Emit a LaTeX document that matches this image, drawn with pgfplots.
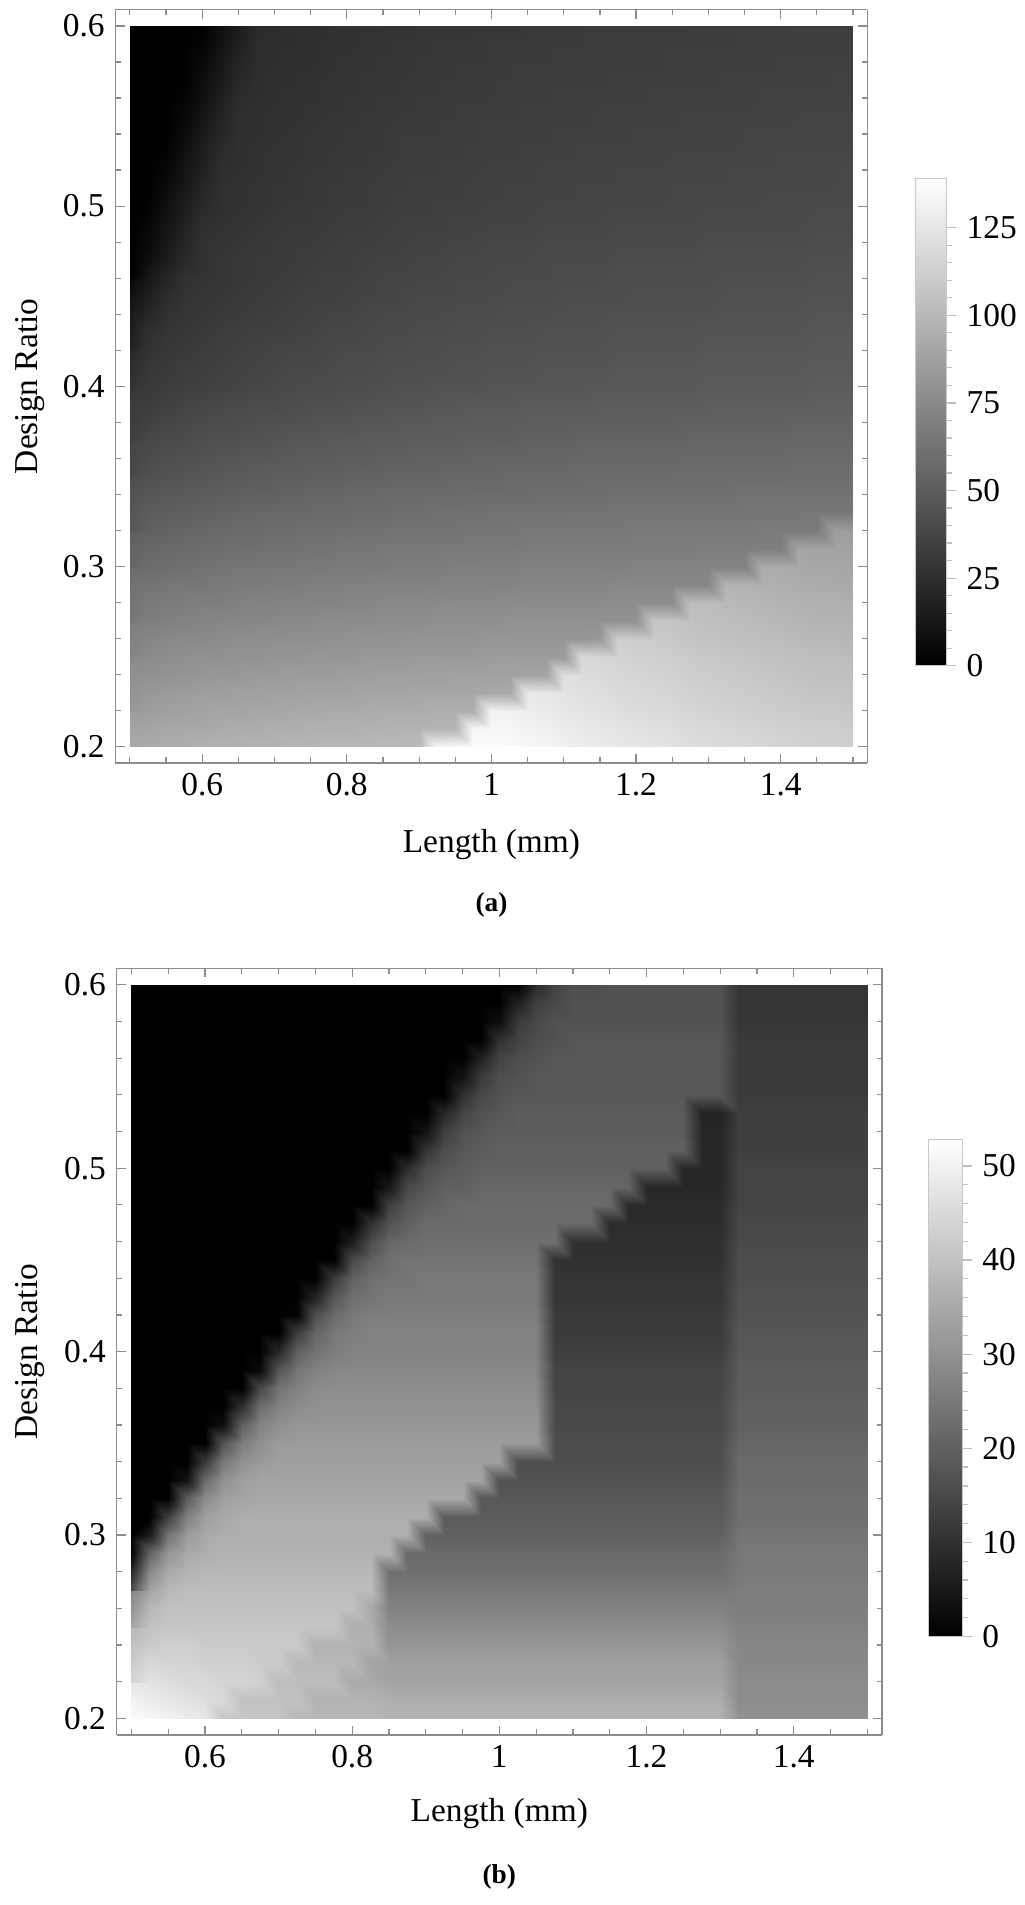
\documentclass[border=0pt]{standalone}
\usepackage{fontspec}
\setmainfont{Liberation Serif}
\usepackage{pgfplots}
\usepackage{pgfplotstable}
\pgfplotsset{compat=1.18}

\pgfplotsset{
  hm/.style={
    view={0}{90}, scale only axis,
    xmin=0.48, xmax=1.52, ymin=0.191, ymax=0.609, zmin=-1, zmax=1,
    xtick={0.6,0.8,1,1.2,1.4}, xticklabels={0.6,0.8,1,1.2,1.4},
    minor xtick={0.5,0.55,0.65,0.7,0.75,0.85,0.9,0.95,1.05,1.1,1.15,1.25,1.3,1.35,1.45,1.5},
    ytick={0.2,0.3,0.4,0.5,0.6}, yticklabels={0.2,0.3,0.4,0.5,0.6},
    minor ytick={0.22,0.24,0.26,0.28,0.32,0.34,0.36,0.38,0.42,0.44,0.46,0.48,0.52,0.54,0.56,0.58},
    ztick=\empty,
    tick align=inside, major tick length=3pt, minor tick length=1.8pt,
    axis line style={black!45}, every tick/.style={black!45},
    /pgf/number format/assume math mode=true,
    colormap={bw}{gray(0cm)=(0); gray(1cm)=(1)},
    xlabel={Length (mm)}, ylabel={Design Ratio},
    every tick label/.append style={font=\fontsize{11}{13}\selectfont},
    every axis label/.append style={font=\fontsize{11}{13}\selectfont},
  },
  cb/.style={
    colorbar style={
      at={(parent axis.south east)}, anchor=south west,
      scale only axis, tick align=outside,
      major tick length=3pt, minor tick length=1.8pt,
      axis line style={black!22}, every tick/.style={black!25},
      ytick pos=right, yticklabel pos=right,
      /pgf/number format/assume math mode=true,
      every tick label/.append style={font=\fontsize{11}{13}\selectfont},
      #1
    }
  }
}

\pgfplotstableread[header=false,row sep=\\]{
92\\93\\94\\95\\96\\97\\97\\98\\98\\99\\99\\100\\100\\100\\101\\101\\101\\135\\136\\137\\137\\136\\134\\133\\131\\129\\128\\126\\125\\124\\123\\121\\120\\119\\118\\117\\116\\115\\114\\114\\113\\
89\\90\\91\\92\\92\\93\\94\\94\\95\\95\\96\\96\\96\\97\\97\\98\\98\\98\\98\\135\\135\\134\\132\\131\\129\\127\\126\\124\\123\\122\\121\\119\\118\\117\\116\\115\\114\\113\\112\\112\\111\\
85\\86\\87\\88\\89\\90\\90\\91\\91\\92\\92\\93\\93\\93\\94\\94\\94\\95\\95\\95\\132\\131\\129\\128\\126\\124\\123\\121\\120\\119\\118\\116\\115\\114\\113\\112\\111\\110\\109\\109\\108\\
82\\83\\84\\85\\86\\86\\87\\87\\88\\88\\89\\89\\89\\90\\90\\90\\91\\91\\91\\91\\92\\92\\127\\126\\124\\122\\121\\119\\118\\117\\116\\114\\113\\112\\111\\110\\109\\108\\107\\107\\106\\
78\\79\\80\\81\\82\\83\\83\\84\\84\\85\\85\\85\\86\\86\\87\\87\\87\\87\\88\\88\\88\\88\\89\\89\\122\\120\\119\\117\\116\\115\\114\\112\\111\\110\\109\\108\\107\\106\\105\\105\\104\\
75\\76\\77\\78\\79\\79\\80\\80\\81\\81\\82\\82\\82\\83\\83\\83\\84\\84\\84\\84\\85\\85\\85\\85\\85\\118\\117\\115\\114\\113\\112\\110\\109\\108\\107\\106\\105\\104\\103\\103\\102\\
72\\73\\74\\75\\75\\76\\77\\77\\78\\78\\78\\79\\79\\80\\80\\80\\81\\81\\81\\81\\82\\82\\82\\82\\82\\82\\83\\112\\111\\110\\109\\107\\106\\105\\104\\103\\102\\101\\100\\100\\99\\
68\\69\\70\\71\\72\\73\\73\\74\\74\\75\\75\\76\\76\\76\\77\\77\\77\\78\\78\\78\\78\\79\\79\\79\\79\\79\\79\\80\\80\\108\\107\\105\\104\\103\\102\\101\\100\\99\\98\\98\\97\\
65\\66\\67\\68\\69\\69\\70\\71\\71\\72\\72\\72\\73\\73\\74\\74\\74\\75\\75\\75\\75\\76\\76\\76\\76\\76\\76\\77\\77\\77\\77\\103\\102\\101\\100\\99\\98\\97\\96\\96\\95\\
61\\63\\64\\65\\65\\66\\67\\67\\68\\68\\69\\69\\70\\70\\71\\71\\71\\71\\72\\72\\72\\72\\73\\73\\73\\73\\73\\74\\74\\74\\74\\74\\74\\98\\97\\96\\95\\94\\93\\93\\92\\
58\\59\\60\\61\\62\\63\\64\\64\\65\\65\\66\\66\\67\\67\\67\\68\\68\\68\\69\\69\\69\\69\\70\\70\\70\\70\\70\\70\\71\\71\\71\\71\\71\\71\\71\\94\\93\\92\\91\\91\\90\\
55\\56\\57\\58\\59\\60\\61\\61\\62\\62\\63\\63\\64\\64\\65\\65\\65\\66\\66\\66\\67\\67\\67\\67\\68\\68\\68\\68\\68\\68\\68\\68\\69\\69\\69\\69\\69\\90\\89\\89\\88\\
52\\53\\54\\55\\56\\57\\58\\58\\59\\60\\60\\61\\61\\62\\62\\63\\63\\63\\63\\64\\64\\64\\65\\65\\65\\65\\65\\65\\66\\66\\66\\66\\66\\66\\66\\67\\67\\67\\67\\86\\85\\
48\\50\\51\\52\\53\\54\\55\\56\\56\\57\\57\\58\\58\\59\\59\\60\\60\\61\\61\\61\\62\\62\\62\\62\\63\\63\\63\\63\\63\\63\\63\\64\\64\\64\\64\\64\\64\\64\\65\\65\\65\\
45\\47\\48\\49\\50\\51\\52\\53\\53\\54\\55\\55\\56\\56\\57\\57\\58\\58\\58\\59\\59\\59\\59\\60\\60\\60\\60\\61\\61\\61\\61\\61\\61\\61\\62\\62\\62\\62\\62\\62\\62\\
42\\44\\45\\46\\47\\48\\49\\50\\51\\51\\52\\52\\53\\54\\54\\55\\55\\55\\56\\56\\56\\57\\57\\57\\57\\58\\58\\58\\58\\58\\59\\59\\59\\59\\59\\59\\59\\60\\60\\60\\60\\
39\\41\\43\\44\\45\\46\\47\\48\\48\\49\\50\\50\\51\\51\\52\\52\\53\\53\\54\\54\\54\\55\\55\\55\\55\\56\\56\\56\\56\\56\\56\\57\\57\\57\\57\\57\\57\\58\\58\\58\\58\\
37\\39\\40\\41\\43\\44\\44\\45\\46\\47\\47\\48\\49\\49\\50\\50\\51\\51\\51\\52\\52\\52\\53\\53\\53\\54\\54\\54\\54\\54\\54\\55\\55\\55\\55\\55\\55\\56\\56\\56\\56\\
34\\36\\38\\39\\40\\41\\42\\43\\44\\44\\45\\46\\46\\47\\47\\48\\48\\49\\49\\50\\50\\50\\51\\51\\51\\51\\52\\52\\52\\52\\52\\53\\53\\53\\53\\53\\53\\54\\54\\54\\54\\
32\\33\\35\\37\\38\\39\\40\\41\\41\\42\\43\\43\\44\\45\\45\\46\\46\\47\\47\\48\\48\\48\\49\\49\\49\\49\\50\\50\\50\\50\\50\\50\\51\\51\\51\\51\\51\\51\\52\\52\\52\\
29\\31\\33\\34\\35\\36\\37\\38\\39\\40\\41\\41\\42\\42\\43\\44\\44\\45\\45\\45\\46\\46\\46\\47\\47\\47\\47\\48\\48\\48\\48\\48\\49\\49\\49\\49\\49\\49\\50\\50\\50\\
27\\30\\31\\33\\34\\35\\36\\37\\38\\39\\39\\40\\41\\41\\42\\43\\43\\43\\44\\44\\45\\45\\45\\46\\46\\46\\46\\47\\47\\47\\47\\47\\48\\48\\48\\48\\48\\48\\49\\49\\49\\
22\\28\\30\\31\\33\\34\\35\\36\\37\\38\\38\\39\\40\\40\\41\\41\\42\\42\\43\\43\\44\\44\\44\\45\\45\\45\\45\\46\\46\\46\\46\\46\\47\\47\\47\\47\\47\\47\\48\\48\\48\\
18\\26\\29\\30\\31\\33\\34\\35\\35\\36\\37\\38\\38\\39\\40\\40\\41\\41\\42\\42\\43\\43\\43\\44\\44\\44\\44\\45\\45\\45\\45\\45\\46\\46\\46\\46\\46\\46\\47\\47\\47\\
14\\21\\27\\29\\30\\31\\32\\33\\34\\35\\36\\37\\37\\38\\39\\39\\40\\40\\41\\41\\41\\42\\42\\42\\43\\43\\43\\44\\44\\44\\44\\44\\44\\45\\45\\45\\45\\45\\46\\46\\46\\
9\\17\\24\\28\\29\\30\\31\\32\\33\\34\\35\\35\\36\\37\\37\\38\\39\\39\\39\\40\\40\\41\\41\\41\\42\\42\\42\\42\\43\\43\\43\\43\\43\\44\\44\\44\\44\\44\\45\\45\\45\\
4\\12\\20\\27\\28\\29\\30\\31\\32\\33\\34\\35\\35\\36\\37\\37\\38\\38\\39\\39\\39\\40\\40\\40\\41\\41\\41\\42\\42\\42\\42\\42\\42\\43\\43\\43\\43\\43\\44\\44\\44\\
0\\8\\15\\23\\27\\29\\30\\31\\31\\32\\33\\34\\34\\35\\36\\36\\37\\37\\38\\38\\39\\39\\39\\40\\40\\40\\40\\41\\41\\41\\41\\41\\42\\42\\42\\42\\42\\42\\43\\43\\43\\
0\\5\\13\\20\\27\\28\\29\\30\\31\\32\\32\\33\\34\\34\\35\\35\\36\\36\\37\\37\\38\\38\\38\\39\\39\\39\\39\\40\\40\\40\\40\\40\\41\\41\\41\\41\\41\\41\\42\\42\\42\\
0\\3\\11\\18\\26\\27\\28\\29\\30\\31\\31\\32\\33\\33\\34\\35\\35\\35\\36\\36\\37\\37\\37\\38\\38\\38\\38\\39\\39\\39\\39\\39\\40\\40\\40\\40\\40\\40\\41\\41\\41\\
0\\1\\8\\16\\23\\26\\27\\28\\29\\30\\31\\31\\32\\32\\33\\34\\34\\35\\35\\35\\36\\36\\36\\37\\37\\37\\37\\38\\38\\38\\38\\38\\39\\39\\39\\39\\39\\39\\40\\40\\40\\
0\\0\\6\\13\\21\\26\\27\\28\\29\\29\\30\\31\\31\\32\\33\\33\\34\\34\\34\\35\\35\\36\\36\\36\\36\\37\\37\\37\\37\\37\\38\\38\\38\\38\\38\\39\\39\\39\\39\\39\\39\\
0\\0\\3\\11\\18\\25\\26\\27\\28\\29\\30\\30\\31\\31\\32\\33\\33\\33\\34\\34\\35\\35\\35\\36\\36\\36\\36\\37\\37\\37\\37\\37\\37\\38\\38\\38\\38\\38\\38\\39\\39\\
0\\0\\1\\9\\16\\24\\26\\27\\28\\28\\29\\30\\30\\31\\31\\32\\32\\33\\33\\34\\34\\34\\35\\35\\35\\36\\36\\36\\36\\36\\37\\37\\37\\37\\37\\37\\38\\38\\38\\38\\38\\
0\\0\\0\\6\\14\\21\\26\\26\\27\\28\\29\\29\\30\\30\\31\\32\\32\\32\\33\\33\\34\\34\\34\\34\\35\\35\\35\\35\\36\\36\\36\\36\\36\\36\\37\\37\\37\\37\\37\\37\\38\\
0\\0\\0\\4\\11\\19\\25\\26\\27\\27\\28\\29\\29\\30\\30\\31\\31\\32\\32\\33\\33\\33\\34\\34\\34\\34\\35\\35\\35\\35\\35\\36\\36\\36\\36\\36\\36\\37\\37\\37\\37\\
0\\0\\0\\2\\9\\17\\24\\25\\26\\27\\27\\28\\29\\29\\30\\30\\31\\31\\32\\32\\32\\33\\33\\33\\34\\34\\34\\34\\34\\35\\35\\35\\35\\35\\35\\36\\36\\36\\36\\36\\36\\
0\\0\\0\\0\\7\\14\\22\\25\\26\\26\\27\\28\\28\\29\\29\\30\\30\\31\\31\\31\\32\\32\\32\\33\\33\\33\\33\\34\\34\\34\\34\\34\\34\\35\\35\\35\\35\\35\\35\\36\\36\\
0\\0\\0\\0\\5\\12\\20\\24\\25\\26\\26\\27\\28\\28\\29\\29\\30\\30\\31\\31\\31\\32\\32\\32\\32\\33\\33\\33\\33\\33\\34\\34\\34\\34\\34\\34\\35\\35\\35\\35\\35\\
0\\0\\0\\0\\2\\10\\17\\24\\25\\25\\26\\27\\27\\28\\28\\29\\29\\30\\30\\30\\31\\31\\31\\32\\32\\32\\32\\32\\33\\33\\33\\33\\33\\33\\34\\34\\34\\34\\34\\34\\35\\
0\\0\\0\\0\\0\\8\\15\\23\\24\\25\\25\\26\\27\\27\\28\\28\\29\\29\\29\\30\\30\\30\\31\\31\\31\\32\\32\\32\\32\\32\\32\\33\\33\\33\\33\\33\\33\\34\\34\\34\\34\\
}\dataA

\pgfplotstableread[header=false,row sep=\\]{
52\\51\\50\\49\\48\\41\\41\\41\\41\\38\\
38\\38\\38\\38\\37\\37\\37\\37\\37\\37\\
37\\37\\37\\37\\37\\37\\37\\37\\37\\37\\
37\\37\\37\\30\\30\\30\\30\\30\\30\\30\\
30\\
50\\49\\48\\47\\46\\45\\40\\40\\40\\40\\
37\\37\\37\\37\\36\\36\\36\\36\\36\\36\\
36\\36\\36\\36\\36\\36\\36\\36\\36\\36\\
36\\36\\36\\29\\29\\29\\29\\29\\29\\29\\
29\\
48\\47\\46\\45\\45\\44\\44\\43\\39\\39\\
39\\39\\35\\35\\34\\34\\34\\34\\34\\34\\
34\\34\\34\\34\\34\\34\\34\\34\\34\\34\\
34\\34\\34\\29\\29\\29\\29\\29\\29\\29\\
29\\
44\\45\\44\\44\\43\\43\\43\\42\\42\\38\\
38\\38\\38\\34\\33\\33\\33\\33\\33\\33\\
33\\33\\33\\33\\33\\33\\33\\33\\33\\33\\
33\\33\\33\\28\\28\\28\\28\\28\\28\\28\\
28\\
40\\42\\43\\43\\42\\42\\42\\42\\42\\42\\
37\\37\\37\\37\\31\\31\\31\\31\\31\\31\\
31\\31\\31\\31\\31\\31\\31\\31\\31\\31\\
31\\31\\31\\28\\28\\28\\28\\28\\28\\28\\
28\\
38\\40\\41\\41\\41\\41\\41\\41\\41\\41\\
41\\41\\36\\36\\29\\29\\29\\29\\29\\29\\
29\\29\\29\\29\\29\\29\\29\\29\\29\\29\\
29\\29\\29\\27\\27\\27\\27\\27\\27\\27\\
27\\
34\\38\\40\\40\\40\\40\\40\\40\\40\\40\\
40\\40\\40\\35\\27\\27\\27\\27\\27\\27\\
27\\27\\27\\27\\27\\27\\27\\27\\27\\27\\
27\\27\\27\\26\\26\\26\\26\\26\\26\\26\\
26\\
27\\34\\38\\39\\39\\39\\39\\39\\39\\39\\
39\\39\\39\\39\\25\\25\\25\\25\\25\\25\\
25\\25\\25\\25\\25\\25\\25\\25\\25\\25\\
25\\25\\25\\26\\26\\26\\26\\26\\26\\26\\
26\\
15\\29\\35\\37\\38\\38\\38\\38\\38\\38\\
38\\38\\38\\38\\23\\23\\23\\23\\23\\23\\
23\\23\\23\\23\\23\\23\\23\\23\\23\\23\\
23\\23\\23\\25\\25\\25\\25\\25\\25\\25\\
25\\
0\\21\\31\\35\\36\\37\\37\\37\\37\\37\\
37\\37\\37\\37\\37\\22\\22\\22\\22\\22\\
22\\22\\22\\22\\22\\22\\22\\22\\22\\22\\
22\\22\\22\\25\\25\\25\\25\\25\\25\\25\\
25\\
0\\6\\24\\32\\35\\36\\36\\36\\36\\36\\
36\\36\\36\\36\\36\\36\\20\\20\\20\\20\\
20\\20\\20\\20\\20\\20\\20\\20\\20\\20\\
20\\20\\20\\24\\24\\24\\24\\24\\24\\24\\
24\\
0\\0\\13\\27\\33\\35\\36\\36\\36\\36\\
36\\36\\36\\36\\36\\36\\36\\19\\19\\19\\
19\\19\\19\\19\\19\\19\\19\\19\\19\\19\\
19\\19\\19\\23\\23\\23\\23\\23\\23\\23\\
23\\
0\\0\\0\\19\\29\\33\\34\\35\\35\\35\\
35\\35\\35\\35\\35\\35\\35\\35\\35\\18\\
18\\18\\18\\18\\18\\18\\18\\18\\18\\18\\
18\\18\\18\\23\\23\\23\\23\\23\\23\\23\\
23\\
0\\0\\0\\4\\22\\30\\33\\34\\34\\34\\
34\\34\\34\\34\\34\\34\\34\\34\\34\\34\\
17\\17\\17\\17\\17\\17\\17\\17\\17\\17\\
17\\17\\17\\22\\22\\22\\22\\22\\22\\22\\
22\\
0\\0\\0\\0\\12\\25\\30\\32\\33\\33\\
33\\33\\33\\33\\33\\33\\33\\33\\33\\33\\
33\\16\\16\\16\\16\\16\\16\\16\\16\\16\\
16\\16\\16\\22\\22\\22\\22\\22\\22\\22\\
22\\
0\\0\\0\\0\\0\\17\\26\\30\\32\\32\\
32\\32\\32\\32\\32\\32\\32\\32\\32\\32\\
32\\32\\32\\16\\16\\16\\16\\16\\16\\16\\
16\\16\\16\\21\\21\\21\\21\\21\\21\\21\\
21\\
0\\0\\0\\0\\0\\3\\20\\27\\30\\31\\
31\\31\\31\\31\\31\\31\\31\\31\\31\\31\\
31\\31\\31\\15\\15\\15\\15\\15\\15\\15\\
15\\15\\15\\20\\20\\20\\20\\20\\20\\20\\
20\\
0\\0\\0\\0\\0\\0\\10\\23\\27\\29\\
30\\30\\30\\30\\30\\30\\30\\30\\30\\30\\
30\\30\\30\\15\\15\\15\\15\\15\\15\\15\\
15\\15\\15\\20\\20\\20\\20\\20\\20\\20\\
20\\
0\\0\\0\\0\\0\\0\\0\\15\\24\\27\\
29\\29\\29\\29\\29\\29\\29\\29\\29\\29\\
29\\29\\29\\14\\14\\14\\14\\14\\14\\14\\
14\\14\\14\\19\\19\\19\\19\\19\\19\\19\\
19\\
0\\0\\0\\0\\0\\0\\0\\2\\18\\24\\
27\\28\\28\\28\\28\\28\\28\\28\\28\\28\\
28\\28\\28\\14\\14\\14\\14\\14\\14\\14\\
14\\14\\14\\19\\19\\19\\19\\19\\19\\19\\
19\\
0\\0\\0\\0\\0\\0\\0\\0\\9\\20\\
24\\26\\27\\27\\27\\27\\27\\27\\27\\27\\
27\\27\\27\\13\\13\\13\\13\\13\\13\\13\\
13\\13\\13\\18\\18\\18\\18\\18\\18\\18\\
18\\
0\\0\\0\\0\\0\\0\\0\\0\\0\\13\\
21\\25\\26\\27\\27\\27\\27\\27\\27\\27\\
27\\27\\27\\12\\12\\12\\12\\12\\12\\12\\
12\\12\\12\\18\\18\\18\\18\\18\\18\\18\\
18\\
0\\0\\0\\0\\0\\0\\0\\0\\0\\1\\
16\\22\\25\\26\\26\\26\\26\\26\\26\\26\\
26\\26\\26\\12\\12\\12\\12\\12\\12\\12\\
12\\12\\12\\17\\17\\17\\17\\17\\17\\17\\
17\\
0\\0\\0\\0\\0\\0\\0\\0\\0\\0\\
7\\18\\23\\24\\25\\25\\25\\25\\25\\25\\
25\\25\\25\\11\\11\\11\\11\\11\\11\\11\\
11\\11\\11\\17\\17\\17\\17\\17\\17\\17\\
17\\
0\\0\\0\\0\\0\\0\\0\\0\\0\\0\\
0\\12\\20\\23\\24\\24\\25\\25\\25\\25\\
25\\25\\25\\11\\11\\11\\11\\11\\11\\11\\
11\\11\\11\\16\\16\\16\\16\\16\\16\\16\\
16\\
0\\0\\0\\0\\0\\0\\0\\0\\0\\0\\
0\\0\\15\\20\\23\\24\\24\\24\\24\\24\\
24\\24\\24\\10\\10\\10\\10\\10\\10\\10\\
10\\10\\10\\16\\16\\16\\16\\16\\16\\16\\
16\\
0\\0\\0\\0\\0\\0\\0\\0\\0\\0\\
0\\0\\6\\16\\21\\22\\23\\23\\23\\23\\
23\\23\\23\\23\\10\\10\\10\\10\\10\\10\\
10\\10\\10\\15\\15\\15\\15\\15\\15\\15\\
15\\
0\\0\\0\\0\\0\\0\\0\\0\\0\\0\\
0\\0\\0\\10\\17\\20\\22\\22\\22\\22\\
22\\22\\22\\22\\22\\22\\9\\9\\9\\9\\
9\\9\\9\\15\\15\\15\\15\\15\\15\\15\\
15\\
0\\0\\0\\0\\0\\0\\0\\0\\0\\0\\
0\\0\\0\\0\\13\\18\\20\\21\\22\\22\\
22\\22\\22\\22\\22\\22\\22\\9\\9\\9\\
9\\9\\9\\14\\14\\14\\14\\14\\14\\14\\
14\\
0\\0\\0\\0\\0\\0\\0\\0\\0\\0\\
0\\0\\0\\0\\5\\15\\18\\20\\20\\21\\
21\\21\\21\\21\\21\\21\\21\\21\\8\\8\\
8\\8\\8\\14\\14\\14\\14\\14\\14\\14\\
14\\
0\\0\\0\\0\\0\\0\\0\\0\\0\\0\\
0\\0\\0\\0\\0\\9\\16\\18\\19\\20\\
20\\20\\20\\20\\20\\20\\20\\20\\20\\20\\
8\\8\\8\\14\\14\\14\\14\\14\\14\\14\\
14\\
0\\0\\0\\0\\0\\0\\0\\0\\0\\0\\
0\\0\\0\\0\\0\\0\\11\\16\\18\\19\\
20\\20\\20\\20\\20\\20\\20\\20\\20\\20\\
20\\8\\8\\13\\13\\13\\13\\13\\13\\13\\
13\\
0\\0\\0\\0\\0\\0\\0\\0\\0\\0\\
0\\0\\0\\0\\0\\0\\4\\13\\17\\18\\
19\\19\\19\\19\\19\\19\\19\\19\\19\\19\\
19\\8\\8\\13\\13\\13\\13\\13\\13\\13\\
13\\
0\\0\\0\\0\\0\\0\\0\\0\\0\\0\\
0\\0\\0\\0\\0\\0\\0\\8\\14\\17\\
18\\19\\19\\19\\19\\19\\19\\19\\19\\19\\
19\\7\\7\\13\\13\\13\\13\\13\\13\\13\\
13\\
0\\0\\0\\0\\0\\0\\0\\0\\0\\0\\
0\\0\\0\\0\\0\\0\\0\\0\\10\\15\\
17\\18\\18\\18\\18\\18\\18\\18\\18\\18\\
18\\18\\18\\12\\12\\12\\12\\12\\12\\12\\
12\\
0\\0\\0\\0\\0\\0\\0\\0\\0\\0\\
0\\0\\0\\0\\0\\0\\0\\0\\4\\12\\
16\\17\\18\\18\\18\\18\\18\\18\\18\\18\\
18\\18\\18\\12\\12\\12\\12\\12\\12\\12\\
12\\
0\\0\\0\\0\\0\\0\\0\\0\\0\\0\\
0\\0\\0\\0\\0\\0\\0\\0\\0\\7\\
14\\16\\17\\18\\18\\18\\18\\18\\18\\18\\
18\\18\\18\\12\\12\\12\\12\\12\\12\\12\\
12\\
0\\0\\0\\0\\0\\0\\0\\0\\0\\0\\
0\\0\\0\\0\\0\\0\\0\\0\\0\\0\\
10\\14\\16\\17\\18\\18\\18\\18\\18\\18\\
18\\18\\18\\12\\12\\12\\12\\12\\12\\12\\
12\\
0\\0\\0\\0\\0\\0\\0\\0\\0\\0\\
0\\0\\0\\0\\0\\0\\0\\0\\0\\0\\
3\\12\\15\\17\\17\\17\\17\\17\\17\\17\\
17\\17\\17\\11\\11\\11\\11\\11\\11\\11\\
11\\
0\\0\\0\\0\\0\\0\\0\\0\\0\\0\\
0\\0\\0\\0\\0\\0\\0\\0\\0\\0\\
0\\7\\13\\15\\17\\17\\17\\17\\17\\17\\
17\\17\\17\\11\\11\\11\\11\\11\\11\\11\\
11\\
0\\0\\0\\0\\0\\0\\0\\0\\0\\0\\
0\\0\\0\\0\\0\\0\\0\\0\\0\\0\\
0\\0\\9\\14\\16\\16\\17\\17\\17\\17\\
17\\17\\17\\11\\11\\11\\11\\11\\11\\11\\
11\\
}\dataB

\begin{document}
\begin{tikzpicture}
\useasboundingbox (0,0) rectangle (337.2pt,627.2pt);

\begin{axis}[hm, at={(38pt,376pt)}, anchor=south west,
  width=247.6pt, height=248pt,
  every axis x label/.style={at={(axis description cs:0.5,-0.108)}, anchor=center, font=\fontsize{11}{13}\selectfont},
  every axis y label/.style={at={(axis description cs:-0.113,0.5)}, anchor=center, rotate=90, font=\fontsize{11}{13}\selectfont},
  title={(a)},
  every axis title/.style={at={(axis description cs:0.5,-0.189)}, anchor=center, font=\fontsize{9}{11}\selectfont\bfseries},
  point meta min=0, point meta max=139,
  colorbar, cb={xshift=7.2pt, yshift=32pt, width=10.4pt, height=160.4pt,
    ytick={0,25,50,75,100,125}, yticklabels={0,25,50,75,100,125}, minor y tick num=4},
]
\addplot3[surf, shader=interp, mesh/cols=41, point meta=explicit]
  table[x index=0, y index=0, z index=0, x expr={0.5+0.025*mod(\coordindex,41)}, y expr={0.2+0.01*floor(\coordindex/41)}, z expr=0, meta index=0] {\dataA};
\end{axis}

\begin{axis}[hm, at={(38.4pt,56pt)}, anchor=south west,
  width=252pt, height=252.4pt,
  every axis x label/.style={at={(axis description cs:0.5,-0.103)}, anchor=center, font=\fontsize{11}{13}\selectfont},
  every axis y label/.style={at={(axis description cs:-0.113,0.5)}, anchor=center, rotate=90, font=\fontsize{11}{13}\selectfont},
  title={(b)},
  every axis title/.style={at={(axis description cs:0.5,-0.185)}, anchor=center, font=\fontsize{9}{11}\selectfont\bfseries},
  point meta min=0, point meta max=52.8,
  colorbar, cb={xshift=6.8pt, yshift=32.4pt, width=11.2pt, height=163.6pt,
    ytick={0,10,20,30,40,50}, yticklabels={0,10,20,30,40,50}, minor y tick num=4},
]
\addplot3[surf, shader=interp, mesh/cols=41, point meta=explicit]
  table[x index=0, y index=0, z index=0, x expr={0.5+0.025*mod(\coordindex,41)}, y expr={0.2+0.01*floor(\coordindex/41)}, z expr=0, meta index=0] {\dataB};
\end{axis}
\end{tikzpicture}
\end{document}
